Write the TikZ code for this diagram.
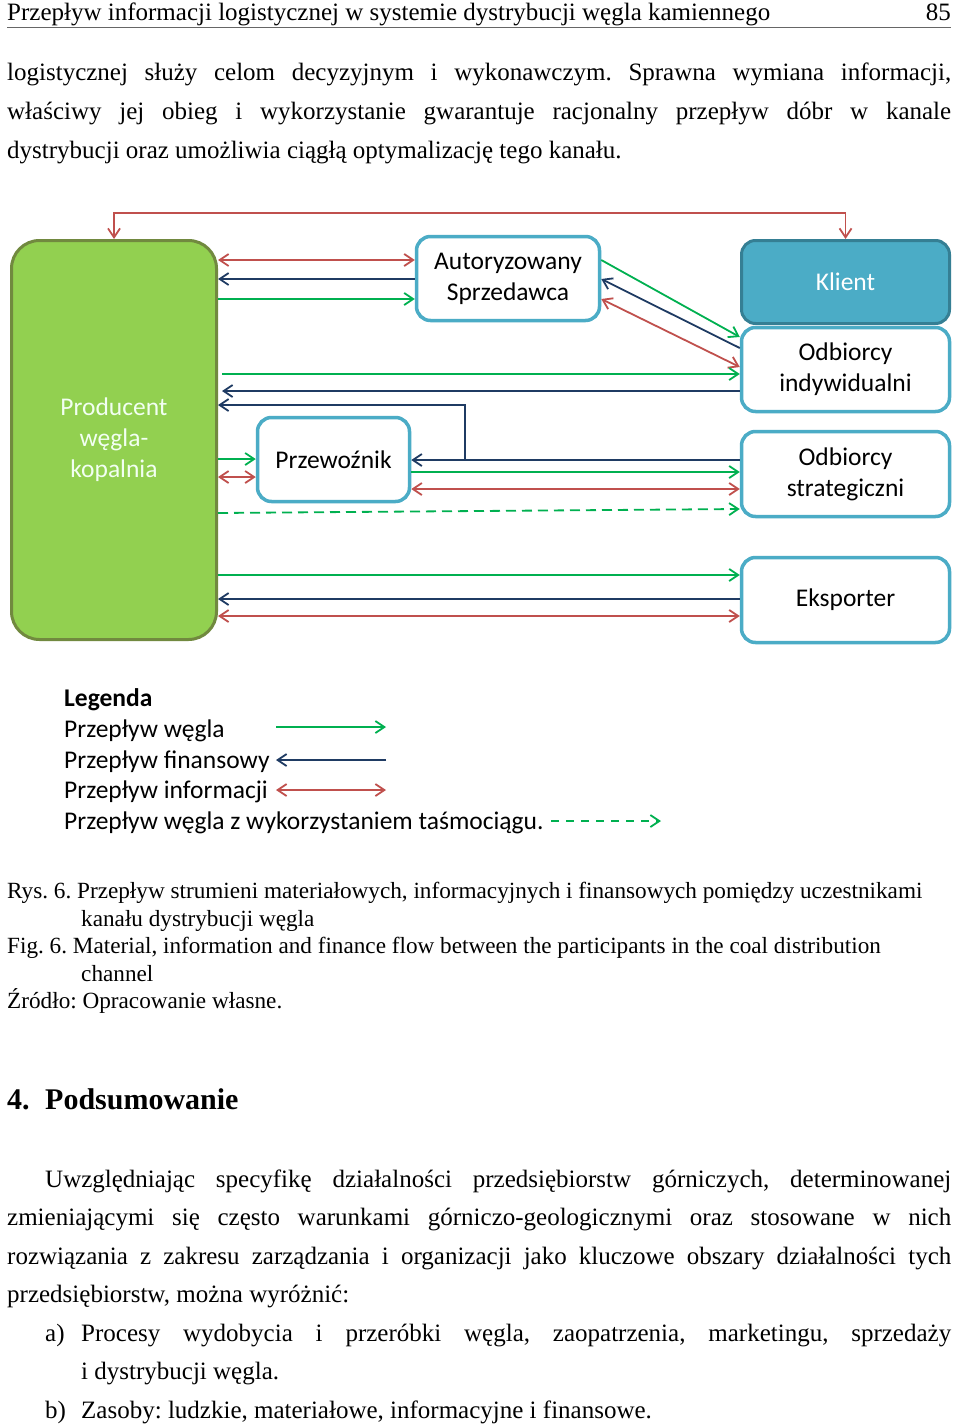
\documentclass[tikz,border=0pt]{standalone}
\usepackage{fontspec}
\setmainfont{Liberation Serif}
\newfontfamily\calfont{Carlito}
\usetikzlibrary{arrows.meta}
\frenchspacing
\definecolor{cgreen}{HTML}{00B050}
\definecolor{cnavy}{HTML}{1F3B63}
\definecolor{cred}{HTML}{C0504D}
\definecolor{pgreen}{HTML}{92D050}
\definecolor{pborder}{HTML}{71893F}
\definecolor{cblue}{HTML}{4BACC6}
\definecolor{cblued}{HTML}{357F94}
\tikzset{
  vtip/.tip={Straight Barb[length=9pt,width=12pt,line width=1.8pt]},
  flow/.style={line width=1.8pt},
  coal/.style={flow,draw=cgreen,-vtip},
  coaldash/.style={flow,draw=cgreen,-vtip,dash pattern=on 10pt off 6pt},
  fin/.style={flow,draw=cnavy,-vtip},
  info/.style={flow,draw=cred,vtip-vtip},
  box/.style={draw=cblue,line width=3.5pt,fill=white,rounded corners=14pt,
    font=\calfont\fontsize{25.5}{31}\selectfont,align=center,inner sep=0pt},
  prodbox/.style={draw=pborder,line width=3pt,fill=pgreen,rounded corners=28pt,
    font=\calfont\fontsize{25.5}{31}\selectfont,align=center,inner sep=0pt,text=white!95!green},
  klientbox/.style={draw=cblued,line width=3pt,fill=cblue,rounded corners=14pt,
    font=\calfont\fontsize{25.5}{31}\selectfont,align=center,inner sep=0pt,text=white},
  leg/.style={anchor=base west,inner sep=0pt,font=\calfont\fontsize{25.5}{31}\selectfont},
  body/.style={anchor=base west,inner sep=0pt,font=\fontsize{25}{38}\selectfont},
  captxt/.style={anchor=base west,inner sep=0pt,font=\fontsize{23.2}{27}\selectfont},
}
\begin{document}
\begin{tikzpicture}[x=1pt,y=-1pt]
\useasboundingbox[fill=white] (0,0) rectangle (960,1426);

% header
\node[body] (hdr) at (7,21) {Przepływ informacji logistycznej w systemie dystrybucji węgla kamiennego};
\node[body,anchor=base east] (pg) at (951,21) {85};
\coordinate (hl) at (7,28); \coordinate (hr) at (951,28);
\draw[black!60,line width=1pt] (hl) -- (hr);

% top paragraph
\node[body] (t1) at (7,81) {\makebox[944pt][s]{logistycznej służy celom decyzyjnym i wykonawczym. Sprawna wymiana informacji,}};
\node[body] (t2) at (7,119.5) {\makebox[944pt][s]{właściwy jej obieg i wykorzystanie gwarantuje racjonalny przepływ dóbr w kanale}};
\node[body] (t3) at (7,158) {dystrybucji oraz umożliwia ciągłą optymalizację tego kanału.};

% boxes
\node[prodbox,minimum width=205pt,minimum height=399pt] (prod) at (114,440) {Producent\\węgla-\\kopalnia};
\node[box,minimum width=183pt,minimum height=84pt] (as) at (508,278.5) {Autoryzowany\\Sprzedawca};
\node[klientbox,minimum width=208pt,minimum height=83pt] (kl) at (845.5,282) {Klient};
\node[box,minimum width=208pt,minimum height=84pt] (oi) at (845.5,369.5) {Odbiorcy\\indywidualni};
\node[box,minimum width=152pt,minimum height=84pt] (prz) at (333.5,459.5) {Przewoźnik};
\node[box,minimum width=208pt,minimum height=85pt] (os) at (845.5,474) {Odbiorcy\\strategiczni};
\node[box,minimum width=208pt,minimum height=85pt] (eks) at (845.5,600) {Eksporter};

% row coordinates
\coordinate (top) at (0,213);
\coordinate (r1) at (0,260);
\coordinate (r2) at (0,279);
\coordinate (r3) at (0,299);
\coordinate (d1) at (0,337);
\coordinate (d2) at (0,348);
\coordinate (d3) at (0,367);
\coordinate (r4) at (0,374);
\coordinate (r5) at (0,391);
\coordinate (r6) at (0,405);
\coordinate (r7) at (0,459);
\coordinate (r7b) at (0,460);
\coordinate (r8) at (0,472);
\coordinate (r9) at (0,477);
\coordinate (r10) at (0,489);
\coordinate (dl) at (0,513);
\coordinate (dr) at (0,509);
\coordinate (r12) at (0,575);
\coordinate (r13) at (0,599);
\coordinate (r14) at (0,616);
\coordinate (br) at (465,460);

% connectors
\draw[info] (prod.north) -- (prod.north |- top) -| (kl.north);
\draw[info] (prod.east |- r1) -- (as.west |- r1);
\draw[fin] (as.west |- r2) -- (prod.east |- r2);
\draw[coal] (prod.east |- r3) -- (as.west |- r3);

\draw[coal] (as.east |- r1) -- (oi.west |- d1);
\draw[fin] (oi.west |- d2) -- (as.east |- r2);
\draw[info] (as.east |- r3) -- (oi.west |- d3);

\draw[coal] ([xshift=4pt]prod.east |- r4) -- (oi.west |- r4);
\draw[fin] (oi.west |- r5) -- ([xshift=4pt]prod.east |- r5);
\draw[fin] (br) |- (prod.east |- r6);

\draw[coal] (prod.east |- r7) -- (prz.west |- r7);
\draw[info] (prod.east |- r9) -- (prz.west |- r9);
\draw[fin] (os.west |- r7b) -- (prz.east |- r7b);
\draw[coal] (prz.east |- r8) -- (os.west |- r8);
\draw[info] (prz.east |- r10) -- (os.west |- r10);
\draw[coaldash] (prod.east |- dl) -- (os.west |- dr);

\draw[coal] (prod.east |- r12) -- (eks.west |- r12);
\draw[fin] (eks.west |- r13) -- (prod.east |- r13);
\draw[info] (prod.east |- r14) -- (eks.west |- r14);

% legend
\node[leg,font=\calfont\bfseries\fontsize{25.5}{31}\selectfont] (lg0) at (64,706) {Legenda};
\node[leg] (lg1) at (64,737) {Przepływ węgla};
\node[leg] (lg2) at (64,768) {Przepływ finansowy};
\node[leg] (lg3) at (64,798) {Przepływ informacji};
\node[leg] (lg4) at (64,829) {Przepływ węgla z wykorzystaniem taśmociągu.};
\coordinate (l1a) at (276,727); \coordinate (l1b) at (386,727);
\coordinate (l2a) at (276,760); \coordinate (l2b) at (386,760);
\coordinate (l3a) at (276,790); \coordinate (l3b) at (386,790);
\coordinate (l4a) at (551,821); \coordinate (l4b) at (661,821);
\draw[coal] (l1a) -- (l1b);
\draw[fin] (l2b) -- (l2a);
\draw[info] (l3a) -- (l3b);
\draw[coaldash,dash pattern=on 8pt off 7pt] (l4a) -- (l4b);

% captions
\node[captxt] (c1) at (7,898) {Rys. 6. Przepływ strumieni materiałowych, informacyjnych i finansowych pomiędzy uczestnikami};
\node[captxt] (c2) at (81,926) {kanału dystrybucji węgla};
\node[captxt] (c3) at (7,953) {Fig. 6. Material, information and finance flow between the participants in the coal distribution};
\node[captxt] (c4) at (81,981) {channel};
\node[captxt] (c5) at (7,1008) {Źródło: Opracowanie własne.};

% section
\node[body,font=\bfseries\fontsize{30}{34}\selectfont] (s1) at (7,1109) {4.};
\node[body,font=\bfseries\fontsize{30}{34}\selectfont] (s2) at (45,1109) {Podsumowanie};

% bottom paragraph
\node[body] (p1) at (45,1187) {\makebox[906pt][s]{Uwzględniając specyfikę działalności przedsiębiorstw górniczych, determinowanej}};
\node[body] (p2) at (7,1225.5) {\makebox[944pt][s]{zmieniającymi się często warunkami górniczo-geologicznymi oraz stosowane w nich}};
\node[body] (p3) at (7,1264) {\makebox[944pt][s]{rozwiązania z zakresu zarządzania i organizacji jako kluczowe obszary działalności tych}};
\node[body] (p4) at (7,1302.5) {przedsiębiorstw, można wyróżnić:};
\node[body] (la) at (45,1341) {a)};
\node[body] (p5) at (81,1341) {\makebox[870pt][s]{Procesy wydobycia i przeróbki węgla, zaopatrzenia, marketingu, sprzedaży}};
\node[body] (p6) at (81,1379.5) {i dystrybucji węgla.};
\node[body] (lb) at (45,1418) {b)};
\node[body] (p7) at (81,1418) {Zasoby: ludzkie, materiałowe, informacyjne i finansowe.};
\end{tikzpicture}
\end{document}
